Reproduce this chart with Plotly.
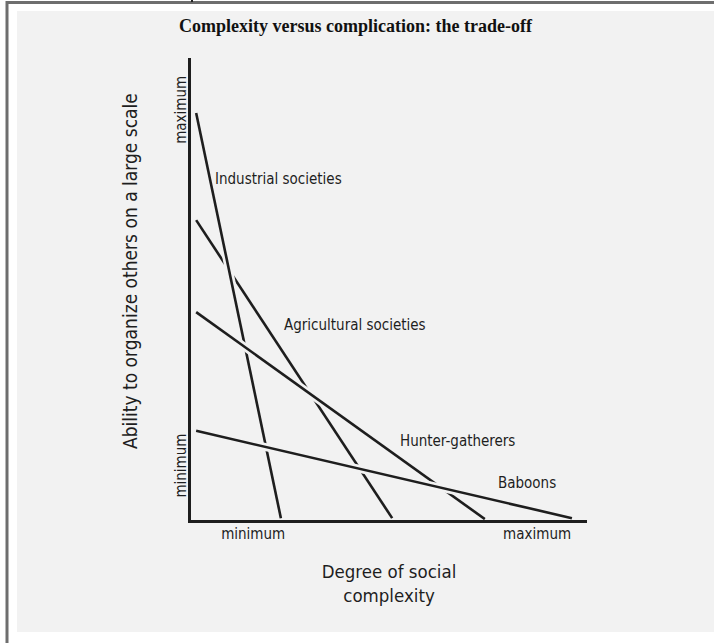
import plotly.graph_objects as go

# ---- data (abstract units: 0 = minimum, 100 = end of axis) ----
series_names = ["Agricultural societies", "Industrial societies", "Hunter-gatherers", "Baboons"]
start_x = [1.3, 1.3, 1.3, 1.3]
start_y = [64.9, 88.1, 45.0, 19.3]
end_x = [50.8, 22.7, 74.2, 96.2]
end_y = [0.4, 0.4, 0.2, 0.4]

label_x = [41.3, 22.2, 67.2, 84.8]
label_y = [42.2, 73.8, 17.1, 8.0]

x_tick_vals = [15.7, 87.4]
x_tick_text = ["minimum", "maximum"]
y_tick_vals = [11.3, 88.3]
y_tick_text = ["minimum", "maximum"]

title_text = "<b>Complexity versus complication: the trade-off</b>"
x_title = "Degree of social<br>complexity"
y_title = "Ability to organize others on a large scale"

BG = "#f2f2f2"
INK = "#1e1e1e"
SANS = "Liberation Sans Narrow, DejaVu Sans Condensed, Roboto Condensed, Arial Narrow, Roboto, sans-serif"

W, H = 714, 643
L, R, T, B = 191, 587, 58, 520

fig = go.Figure()
for i, name in enumerate(series_names):
    xs = [start_x[i], end_x[i]]
    ys = [start_y[i], end_y[i]]
    # halo in background colour -> break lines drawn earlier where this one crosses
    fig.add_trace(go.Scatter(x=xs, y=ys, mode="lines",
                             line=dict(color=BG, width=8),
                             hoverinfo="skip", showlegend=False))
    fig.add_trace(go.Scatter(x=xs, y=ys, mode="lines", name=name,
                             line=dict(color=INK, width=2.6),
                             showlegend=False))

for i, name in enumerate(series_names):
    fig.add_annotation(x=label_x[i], y=label_y[i], text=name, showarrow=False,
                       font=dict(family=SANS, size=15, color=INK),
                       xanchor="center", yanchor="middle")

def px(xp):
    return (xp - L) / (R - L)

def py(yp):
    return (B - yp) / (B - T)

# y-axis title (placed as annotation so it can sit higher than the plot centre)
fig.add_annotation(xref="paper", yref="paper", x=px(130), y=py(271), text=y_title,
                   textangle=-90, showarrow=False, xanchor="center", yanchor="middle",
                   font=dict(family=SANS, size=19, color=INK))

shapes = [
    # grey scanned page
    dict(type="rect", xref="paper", yref="paper", x0=px(17), x1=px(720), y0=py(632), y1=py(11),
         fillcolor=BG, line=dict(width=0), layer="below"),
    # frame lines
    dict(type="line", xref="paper", yref="paper", x0=px(6), x1=px(720), y0=py(2.5), y1=py(2.5),
         line=dict(color="#6e6e6e", width=3), layer="below"),
    dict(type="line", xref="paper", yref="paper", x0=px(7), x1=px(7), y0=py(1), y1=py(645),
         line=dict(color="#6e6e6e", width=3), layer="below"),
    dict(type="line", xref="paper", yref="paper", x0=px(192), x1=px(192), y0=py(-2), y1=py(2),
         line=dict(color="#222", width=2), layer="below"),
]

fig.update_layout(
    width=W, height=H,
    margin=dict(l=L, r=W - R, t=T, b=H - B, pad=0),
    paper_bgcolor="white", plot_bgcolor="rgba(0,0,0,0)",
    shapes=shapes,
    title=dict(text=title_text, x=355.5 / W, y=1 - 26 / H, xanchor="center", yanchor="middle",
               font=dict(family="Liberation Serif, Times New Roman, serif", size=18, color="#111")),
    xaxis=dict(range=[0, 100], showgrid=False, zeroline=False, showline=True,
               linecolor=INK, linewidth=2.8, tickvals=x_tick_vals, ticktext=x_tick_text,
               ticks="", tickfont=dict(family=SANS, size=15, color=INK), ticklabelstandoff=-2,
               title=dict(text=x_title, font=dict(family=SANS, size=18.5, color=INK), standoff=24),
               layer="above traces", fixedrange=True),
    yaxis=dict(range=[0, 100], showgrid=False, zeroline=False, showline=True,
               linecolor=INK, linewidth=2.8, tickvals=y_tick_vals, ticktext=y_tick_text,
               ticks="", tickangle=-90, tickfont=dict(family=SANS, size=15, color=INK),
               ticklabelstandoff=-4,
               layer="above traces", fixedrange=True),
)

fig.write_html(
    "out.html",
    config={"displayModeBar": False},
    post_script="document.body.style.margin='0';document.body.style.overflow='hidden';"
                "document.documentElement.style.overflow='hidden';",
)
